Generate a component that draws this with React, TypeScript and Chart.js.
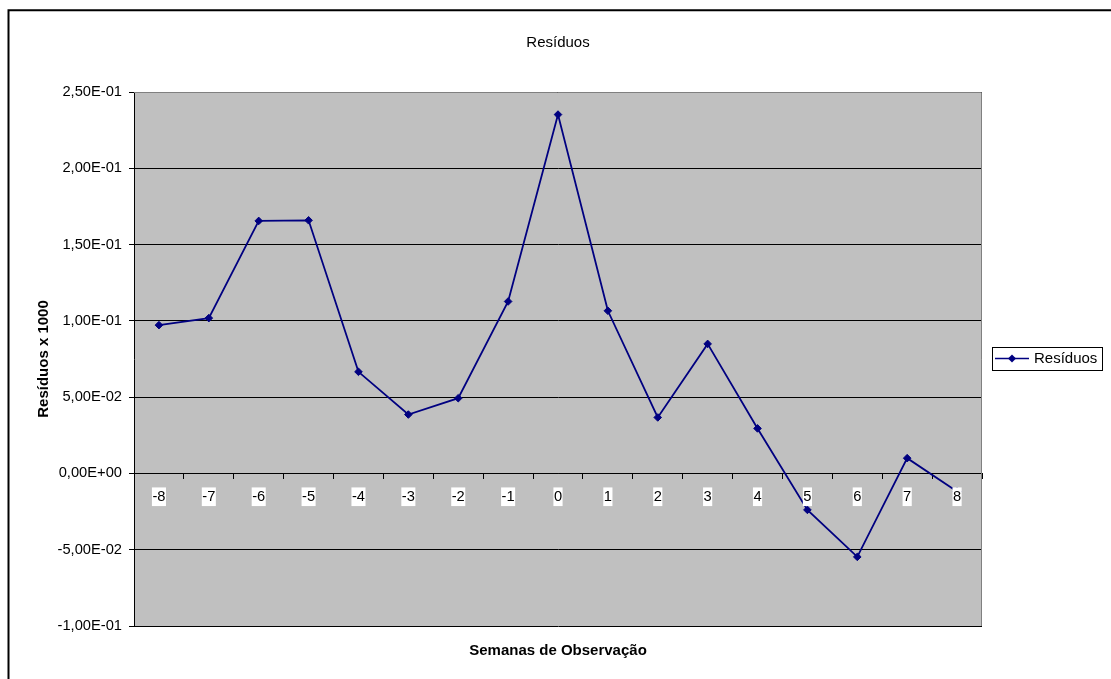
import React, { useEffect, useRef } from "react";
import { Chart, registerables } from "chart.js";

Chart.register(...registerables);

const categories = ["-8", "-7", "-6", "-5", "-4", "-3", "-2", "-1", "0", "1", "2", "3", "4", "5", "6", "7", "8"];
const residuos = [0.0972, 0.1018, 0.1655, 0.1659, 0.0666, 0.0386, 0.0493, 0.1127, 0.2352, 0.1066, 0.0367, 0.0849, 0.0295, -0.0239, -0.0547, 0.01, -0.0118];
const seriesName = "Resíduos";
const chartTitle = "Resíduos";
const yTitle = "Resíduos x 1000";
const xTitle = "Semanas de Observação";
const yMin = -0.1;
const yMax = 0.25;
const yStep = 0.05;

const FONT = "'Liberation Sans', Arial, sans-serif";
const NAVY = "#000080";

function sciComma(v: number): string {
  const r = Math.round(v * 1e10) / 1e10;
  if (r === 0) return "0,00E+00";
  let exp = Math.floor(Math.log10(Math.abs(r)));
  let mant = r / Math.pow(10, exp);
  if (Math.abs(mant) >= 9.995) {
    exp += 1;
    mant = r / Math.pow(10, exp);
  }
  const m = mant.toFixed(2).replace(".", ",");
  const sign = exp < 0 ? "-" : "+";
  const e = String(Math.abs(exp)).padStart(2, "0");
  return `${m}E${sign}${e}`;
}

const framePlugin = {
  id: "excelFrame",
  beforeDraw(chart: any) {
    const { ctx, chartArea } = chart;
    ctx.save();
    ctx.fillStyle = "#C0C0C0";
    ctx.fillRect(chartArea.left, chartArea.top, chartArea.right - chartArea.left, chartArea.bottom - chartArea.top);
    ctx.restore();
  },
  beforeDatasetsDraw(chart: any) {
    const { ctx, chartArea } = chart;
    ctx.save();
    ctx.strokeStyle = "#808080";
    ctx.lineWidth = 1;
    ctx.beginPath();
    ctx.moveTo(chartArea.left, Math.round(chartArea.top) + 0.5);
    ctx.lineTo(Math.round(chartArea.right) - 0.5, Math.round(chartArea.top) + 0.5);
    ctx.lineTo(Math.round(chartArea.right) - 0.5, chartArea.bottom);
    ctx.stroke();
    ctx.restore();
  },
  afterDraw(chart: any) {
    const { ctx, chartArea, width, height } = chart;
    ctx.save();
    // outer chart frame (left & top visible)
    ctx.strokeStyle = "#000";
    ctx.lineWidth = 2;
    ctx.beginPath();
    ctx.moveTo(8.5, height + 5);
    ctx.lineTo(8.5, 10.3);
    ctx.lineTo(width + 5, 10.3);
    ctx.stroke();

    // legend
    const lx = Math.round(chartArea.right) + 10;
    const cy = Math.round((chartArea.top + chartArea.bottom) / 2);
    const bw = 110;
    const bh = 23;
    const by = cy - 12;
    ctx.fillStyle = "#fff";
    ctx.fillRect(lx, by, bw, bh);
    ctx.strokeStyle = "#000";
    ctx.lineWidth = 1;
    ctx.strokeRect(lx + 0.5, by + 0.5, bw, bh);
    const ly = by + 11.5;
    ctx.strokeStyle = NAVY;
    ctx.lineWidth = 1.6;
    ctx.beginPath();
    ctx.moveTo(lx + 3, ly);
    ctx.lineTo(lx + 37, ly);
    ctx.stroke();
    ctx.fillStyle = NAVY;
    const mx = lx + 20;
    ctx.beginPath();
    ctx.moveTo(mx, ly - 4);
    ctx.lineTo(mx + 4, ly);
    ctx.lineTo(mx, ly + 4);
    ctx.lineTo(mx - 4, ly);
    ctx.closePath();
    ctx.fill();
    ctx.fillStyle = "#000";
    ctx.font = `15px ${FONT}`;
    ctx.textBaseline = "middle";
    ctx.textAlign = "left";
    ctx.fillText(seriesName, lx + 42, ly + 0.5);
    ctx.restore();
  },
};

export default function App() {
  const canvasRef = useRef<HTMLCanvasElement | null>(null);

  useEffect(() => {
    const canvas = canvasRef.current;
    if (!canvas) return;
    Chart.defaults.color = "#000";
    const chart = new Chart(canvas, {
      type: "line",
      data: {
        labels: categories,
        datasets: [
          {
            label: seriesName,
            data: residuos,
            borderColor: NAVY,
            backgroundColor: NAVY,
            borderWidth: 1.8,
            pointStyle: "rectRot",
            pointRadius: 3.8,
            pointBorderWidth: 1,
            pointBackgroundColor: NAVY,
            pointBorderColor: NAVY,
            tension: 0,
            fill: false,
            clip: false as any,
          },
        ],
      },
      options: {
        responsive: false,
        animation: false,
        devicePixelRatio: 1,
        layout: { padding: { left: 25, right: 129, top: 0, bottom: 0 } },
        plugins: {
          legend: { display: false },
          tooltip: { enabled: false },
          title: {
            display: true,
            fullSize: false,
            text: chartTitle,
            color: "#000",
            font: { family: FONT, size: 15, weight: "normal" as any, lineHeight: 1.2 },
            padding: { top: 34, bottom: 40 },
          },
          subtitle: {
            display: true,
            fullSize: false,
            position: "bottom",
            text: xTitle,
            color: "#000",
            font: { family: FONT, size: 15, weight: "bold" as any, lineHeight: 1.2 },
            padding: { top: 16, bottom: 19 },
          },
        },
        scales: {
          x: {
            type: "category",
            position: { y: 0 } as any,
            offset: true,
            grid: {
              offset: true,
              drawOnChartArea: false,
              drawTicks: true,
              tickLength: 5,
              color: "#000",
              lineWidth: 1,
            },
            border: { display: true, color: "#000", width: 1 },
            ticks: {
              z: 1,
              padding: 10,
              maxRotation: 0,
              autoSkip: false,
              color: "#000",
              font: { family: FONT, size: 14.7 },
              showLabelBackdrop: true,
              backdropColor: "#fff",
              backdropPadding: { top: 1, bottom: 0, left: 0.5, right: 0.5 },
            } as any,
          },
          y: {
            type: "linear",
            position: "left",
            min: yMin,
            max: yMax,
            afterFit: (scale: any) => {
              scale.width = 109;
            },
            grid: {
              color: "#000",
              lineWidth: 1,
              drawTicks: true,
              tickLength: 5,
            },
            border: { display: true, color: "#000", width: 1 },
            ticks: {
              stepSize: yStep,
              padding: 7,
              color: "#000",
              font: { family: FONT, size: 14.7 },
              callback: (v: any) => sciComma(Number(v)),
            },
            title: {
              display: true,
              text: yTitle,
              color: "#000",
              font: { family: FONT, size: 15, weight: "bold" as any, lineHeight: 1.2 },
              padding: { top: 10, bottom: 0 },
            },
          },
        },
      },
      plugins: [framePlugin],
    });
    return () => chart.destroy();
  }, []);

  return (
    <div style={{ position: "fixed", left: 0, top: 0, width: 1111, height: 679, background: "#fff", overflow: "hidden" }}>
      <canvas ref={canvasRef} width={1111} height={679} style={{ display: "block", width: 1111, height: 679 }} />
    </div>
  );
}
